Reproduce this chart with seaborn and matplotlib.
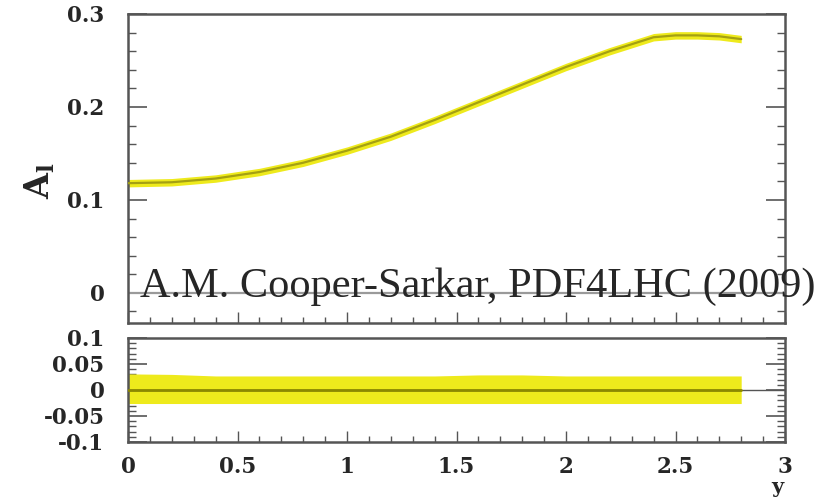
import numpy as np
import pandas as pd
import matplotlib
matplotlib.use("Agg")
import matplotlib.pyplot as plt
import seaborn as sns
from matplotlib.ticker import MultipleLocator

# Lepton asymmetry vs rapidity
y_pts = [0.0, 0.2, 0.4, 0.6, 0.8, 1.0, 1.2, 1.4, 1.6, 1.8, 2.0, 2.2, 2.4, 2.5, 2.6, 2.7, 2.8]
asym = [0.118, 0.119, 0.123, 0.130, 0.140, 0.153, 0.168, 0.186, 0.205, 0.224,
        0.243, 0.260, 0.275, 0.277, 0.277, 0.276, 0.273]
asym_err = [0.004, 0.004, 0.004, 0.004, 0.004, 0.004, 0.004, 0.004, 0.004, 0.004,
            0.004, 0.004, 0.004, 0.004, 0.004, 0.004, 0.004]
ratio_up = [0.031, 0.030, 0.027, 0.027, 0.027, 0.027, 0.027, 0.027, 0.029, 0.029,
            0.027, 0.027, 0.027, 0.027, 0.027, 0.027, 0.027]
ratio_dn = [-0.026, -0.026, -0.026, -0.026, -0.026, -0.026, -0.026, -0.026, -0.026, -0.026,
            -0.026, -0.026, -0.026, -0.026, -0.026, -0.026, -0.026]

df = pd.DataFrame({"y": y_pts, "A": asym, "err": asym_err,
                   "up": ratio_up, "dn": ratio_dn})
df["ratio"] = 0.0

sns.set_style("ticks")
plt.rcParams["font.family"] = ["DejaVu Serif"]
plt.rcParams["mathtext.fontset"] = "dejavuserif"

W, H = 831, 499
fig = plt.figure(figsize=(W / 100, H / 100), dpi=100)
ax1 = fig.add_axes([128 / W, 1 - 323 / H, (785 - 128) / W, (323 - 14) / H])
ax2 = fig.add_axes([128 / W, 1 - 442 / H, (785 - 128) / W, (442 - 338) / H])

band_col = "#eeea1c"
line_col = "#a4a012"
spine_col = "#555555"

# top panel
ax1.axhline(0, color="#9a9a9a", lw=1.6, zorder=1)
ax1.fill_between(df["y"], df["A"] - df["err"], df["A"] + df["err"],
                 color=band_col, lw=0, zorder=2)
sns.lineplot(data=df, x="y", y="A", ax=ax1, color=line_col, lw=1.6, zorder=3)
ax1.set_xlim(0, 3)
ax1.set_ylim(-0.0324, 0.3)
ax1.set_yticks([0, 0.1, 0.2, 0.3])
ax1.set_yticklabels(["0", "0.1", "0.2", "0.3"])
ax1.yaxis.set_minor_locator(MultipleLocator(0.02))
ax1.xaxis.set_major_locator(MultipleLocator(0.5))
ax1.xaxis.set_minor_locator(MultipleLocator(0.1))
ax1.set_xticklabels([])
ax1.set_xlabel("")
ax1.set_ylabel("")

# bottom panel
ax2.fill_between(df["y"], df["dn"], df["up"], color=band_col, lw=0, zorder=1)
ax2.axhline(0, color="#555555", lw=1.0, zorder=2)
sns.lineplot(data=df, x="y", y="ratio", ax=ax2, color="#8c8800", lw=2.0, zorder=3)
ax2.set_xlim(0, 3)
ax2.set_ylim(-0.1, 0.1)
ax2.set_yticks([-0.1, -0.05, 0, 0.05, 0.1])
ax2.set_yticklabels(["-0.1", "-0.05", "0", "0.05", "0.1"])
ax2.yaxis.set_minor_locator(MultipleLocator(0.01))
ax2.xaxis.set_major_locator(MultipleLocator(0.5))
ax2.xaxis.set_minor_locator(MultipleLocator(0.1))
ax2.set_xticks([0, 0.5, 1, 1.5, 2, 2.5, 3])
ax2.set_xticklabels(["0", "0.5", "1", "1.5", "2", "2.5", "3"])
ax2.set_xlabel("")
ax2.set_ylabel("")

for ax in (ax1, ax2):
    for s in ax.spines.values():
        s.set_visible(True)
        s.set_color(spine_col)
        s.set_linewidth(1.8)
    ax.tick_params(axis="y", which="major", direction="in", length=14, width=1.2,
                   color=spine_col, left=True, right=True, pad=17,
                   labelsize=15.5)
    ax.tick_params(axis="y", which="minor", direction="in", length=6, width=1.0,
                   color=spine_col, left=True, right=True)
    ax.tick_params(axis="x", which="major", direction="in", length=8, width=1.0,
                   color=spine_col, top=False, bottom=True, pad=10,
                   labelsize=15.5)
    ax.tick_params(axis="x", which="minor", direction="in", length=4, width=1.0,
                   color=spine_col, top=False, bottom=True)
    for lab in ax.get_xticklabels() + ax.get_yticklabels():
        lab.set_fontweight("bold")

ax1.text(0.055, -0.004, "A.M. Cooper-Sarkar, PDF4LHC (2009)",
         family="Liberation Serif", fontsize=30.5, va="baseline", ha="left",
         zorder=5)

fig.text(40 / W, 1 - 181 / H, r"$\mathbf{A}_{\mathbf{l}}$", rotation=90,
         ha="center", va="center", fontsize=24)
fig.text(777 / W, 1 - 493 / H, "y", ha="center", va="baseline",
         fontsize=15, fontweight="bold")

fig.savefig("out.png", dpi=100)
